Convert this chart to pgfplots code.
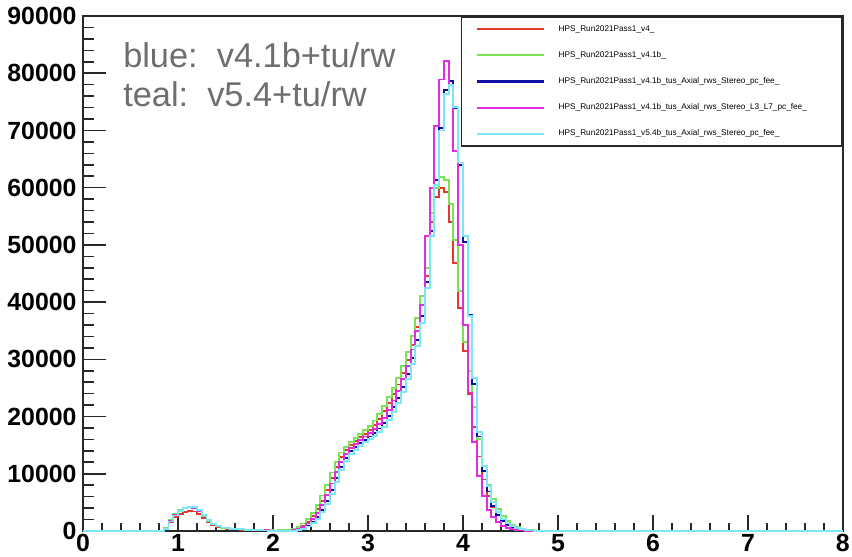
\documentclass[border=0pt]{standalone}
\usepackage{fontspec}
\setmainfont{Liberation Sans}
\usepackage{pgfplots}
\usepackage{pgfplotstable}
\pgfplotsset{compat=1.18}

\definecolor{hred}{RGB}{230,55,45}
\definecolor{hgreen}{RGB}{120,228,85}
\definecolor{hblue}{RGB}{15,15,165}
\definecolor{hmag}{RGB}{225,45,225}
\definecolor{hcyan}{RGB}{125,230,245}
\definecolor{notegray}{RGB}{110,110,110}
\definecolor{tickgray}{RGB}{40,40,40}

% bin left edge, then bin content of each reconstruction pass (bin width 0.05)
\pgfplotstableread{
x     red    green  blue   pink   cyan
0.00  0      0      0      0      0
0.85  450    560    400    420    380
0.90  1600   2000   1700   1750   1650
0.95  2400   2900   2700   2750   2700
1.00  3000   3600   3500   3500   3550
1.05  3350   4050   3950   3950   4000
1.10  3480   4200   4150   4100   4200
1.15  3400   4050   4100   4000   4150
1.20  3000   3500   3650   3550   3700
1.25  2300   2650   2800   2750   2850
1.30  1550   1750   1900   1850   1950
1.35  1000   1150   1250   1200   1280
1.40  700    800    850    820    870
1.45  500    580    600    590    610
1.50  390    450    460    450    470
1.55  320    360    370    360    380
1.60  270    300    310    300    320
1.65  230    260    260    250    270
1.70  190    220    220    210    220
1.75  160    190    180    170    180
1.80  140    160    150    140    150
1.85  120    130    120    110    110
1.90  100    110    90     90     80
1.95  80     90     70     70     60
2.00  70     80     50     50     40
2.05  70     90     30     40     20
2.10  80     110    25     35     15
2.15  80     150    30     50     20
2.20  220    350    90     150    60
2.25  520    750    250    380    180
2.30  950    1300   520    750    400
2.35  1600   2100   950    1300   780
2.40  2600   3200   1600   2100   1350
2.45  3800   4600   2500   3200   2150
2.50  5300   6200   3700   4600   3250
2.55  7100   8100   5200   6300   4700
2.60  9200   10200  7100   8300   6500
2.65  11200  12100  9200   10300  8600
2.70  12900  13700  11200  12100  10600
2.75  14100  14700  12800  13500  12200
2.80  15000  15500  13900  14500  13400
2.85  15700  16200  14700  15200  14200
2.90  16400  16900  15300  15900  14900
2.95  17000  17600  15900  16500  15500
3.00  17700  18300  16500  17100  16000
3.05  18500  19300  17100  17800  16600
3.10  19600  20500  17900  18700  17300
3.15  20900  21900  18900  19800  18200
3.20  22400  23400  20100  21200  19400
3.25  23900  25000  21600  22800  20800
3.30  25600  26800  23300  24500  22400
3.35  27600  28900  25200  26500  24300
3.40  29900  31300  27500  28900  26500
3.45  32500  34000  30200  31700  29200
3.50  35600  37200  33400  35000  32300
3.55  39500  41000  37500  39500  36300
3.60  44500  46000  43500  51500  42500
3.65  54000  55500  52400  60000  51500
3.70  58300  60000  61400  70800  60500
3.75  59900  61800  70400  78900  70000
3.80  59200  61300  77000  82100  76400
3.85  54000  57100  78700  78000  77900
3.90  46900  50800  74000  66400  74100
3.95  39000  42000  64000  50000  64400
4.00  31400  33000  50500  36000  51500
4.05  24000  28000  37800  24200  37500
4.10  18100  21600  25700  15500  26800
4.15  13000  16000  16500  9600   17300
4.20  9000   11400  10500  6100   11300
4.25  6100   8000   6900   3700   7800
4.30  4100   5600   4300   2400   5000
4.35  2700   3900   2800   1500   3300
4.40  1750   2600   1800   900    2100
4.45  1100   1700   1100   550    1300
4.50  700    1100   650    300    800
4.55  420    700    380    160    480
4.60  240    420    200    80     280
4.65  130    250    100    35     150
4.70  60     140    50     0      80
4.75  25     70     20     0      40
4.80  0      30     0      0      0
4.85  0      0      0      0      0
8.00  0      0      0      0      0
}\histdata

\pgfplotsset{
  histline/.style={draw=#1, line width=1.3pt, const plot mark left, mark=none},
}

\begin{document}
\begin{tikzpicture}
\useasboundingbox (0,0) rectangle (600pt,392.2pt);
\begin{axis}[
  at={(58.4pt,18.3pt)}, anchor=south west,
  scale only axis,
  width=535.2pt, height=362.6pt,
  xmin=0, xmax=8, ymin=0, ymax=90000,
  clip=false,
  axis line style={line width=1.1pt, tickgray},
  tick pos=left,
  xtick={0,1,...,8},
  ytick={0,10000,...,90000},
  xtick style={draw=none},
  ytick style={draw=none},
  scaled y ticks=false,
  /pgf/number format/.cd, 1000 sep={}, assume math mode=true,
  /pgfplots/.cd,
  tick label style={font=\fontsize{17.5}{18}\selectfont\bfseries},
  yticklabel style={xshift=-1pt},
  xticklabel style={yshift=1pt},
  legend cell align=left,
  legend image code/.code={\draw[#1, line width=1.5pt] (0pt,0pt) -- (47pt,0pt);},
  legend style={
    at={(1,1)}, anchor=north east,
    draw=tickgray, line width=1.1pt,
    inner xsep=10pt, inner ysep=6pt,
    row sep=12.7pt,
    font=\fontsize{5.8}{6.5}\selectfont,
    nodes={inner sep=0pt},
    /tikz/every odd column/.append style={column sep=9.9pt},
  },
]
% inward tick marks: long ones on y, shorter ones on x
\pgfplotsinvokeforeach{0,10000,20000,30000,40000,50000,60000,70000,80000,90000}{
  \draw[line width=1.1pt, tickgray] (axis cs:0,#1) -- ([xshift=16.1pt]axis cs:0,#1);}
\pgfplotsinvokeforeach{2000,4000,6000,8000,12000,14000,16000,18000,
    22000,24000,26000,28000,32000,34000,36000,38000,42000,44000,46000,48000,
    52000,54000,56000,58000,62000,64000,66000,68000,72000,74000,76000,78000,
    82000,84000,86000,88000}{
  \draw[line width=1.1pt, tickgray] (axis cs:0,#1) -- ([xshift=8.1pt]axis cs:0,#1);}
\pgfplotsinvokeforeach{0,1,2,3,4,5,6,7,8}{
  \draw[line width=1.1pt, tickgray] (axis cs:#1,0) -- ([yshift=10.9pt]axis cs:#1,0);}
\pgfplotsinvokeforeach{0.2,0.4,0.6,0.8,1.2,1.4,1.6,1.8,2.2,2.4,2.6,2.8,
    3.2,3.4,3.6,3.8,4.2,4.4,4.6,4.8,5.2,5.4,5.6,5.8,6.2,6.4,6.6,6.8,
    7.2,7.4,7.6,7.8}{
  \draw[line width=1.1pt, tickgray] (axis cs:#1,0) -- ([yshift=5.4pt]axis cs:#1,0);}

\addplot[histline=hred]   table[x=x, y=red]   {\histdata};
\addlegendentry{HPS\_Run2021Pass1\_v4\_}
\addplot[histline=hgreen] table[x=x, y=green] {\histdata};
\addlegendentry{HPS\_Run2021Pass1\_v4.1b\_}
\addplot[histline=hblue]  table[x=x, y=blue]  {\histdata};
\addlegendentry{HPS\_Run2021Pass1\_v4.1b\_tus\_Axial\_rws\_Stereo\_pc\_fee\_}
\addplot[histline=hmag]   table[x=x, y=pink]  {\histdata};
\addlegendentry{HPS\_Run2021Pass1\_v4.1b\_tus\_Axial\_rws\_Stereo\_L3\_L7\_pc\_fee\_\hspace*{14.8pt}}
\addplot[histline=hcyan]  table[x=x, y=cyan]  {\histdata};
\addlegendentry{HPS\_Run2021Pass1\_v5.4b\_tus\_Axial\_rws\_Stereo\_pc\_fee\_}

\node[anchor=base west, text=notegray, font=\fontsize{24.2}{28}\selectfont, inner sep=0pt]
  at ([xshift=28.2pt,yshift=-35.9pt]axis description cs:0,1) {blue:\ \ v4.1b+tu/rw};
\node[anchor=base west, text=notegray, font=\fontsize{24.2}{28}\selectfont, inner sep=0pt]
  at ([xshift=28.2pt,yshift=-63.4pt]axis description cs:0,1) {teal:\ \ v5.4+tu/rw};
\end{axis}
\end{tikzpicture}
\end{document}
